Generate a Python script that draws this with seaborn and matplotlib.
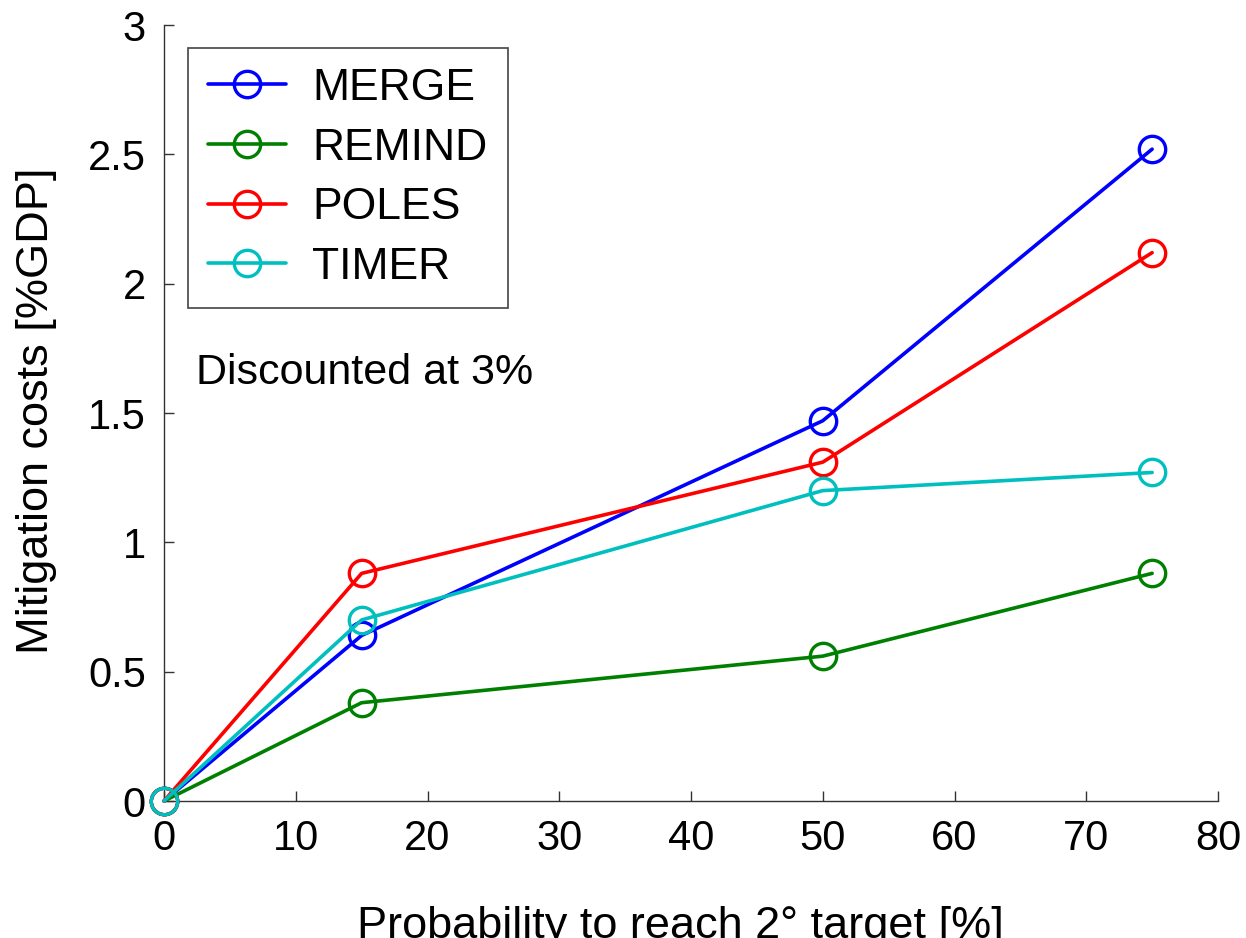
import matplotlib
matplotlib.use("Agg")
import matplotlib.pyplot as plt
from matplotlib import font_manager
import seaborn as sns
import pandas as pd

# Data: mitigation cost vs probability of reaching the 2 degree target
probability = [0, 15, 50, 75]
merge = [0.0, 0.64, 1.47, 2.52]
remind = [0.0, 0.38, 0.56, 0.88]
poles = [0.0, 0.88, 1.31, 2.12]
timer = [0.0, 0.70, 1.20, 1.27]

models = ["MERGE", "REMIND", "POLES", "TIMER"]
colors = ["#0000ff", "#008000", "#ff0000", "#00bfbf"]
x_ticks = [0, 10, 20, 30, 40, 50, 60, 70, 80]
y_ticks = [0, 0.5, 1, 1.5, 2, 2.5, 3]
y_tick_labels = ["0", "0.5", "1", "1.5", "2", "2.5", "3"]

df = pd.DataFrame({
    "probability": probability * 4,
    "cost": merge + remind + poles + timer,
    "model": [m for m in models for _ in probability],
})

sns.set_style("ticks")
available = {f.name for f in font_manager.fontManager.ttflist}
families = [f for f in ["Liberation Sans Narrow", "Liberation Sans", "DejaVu Sans"] if f in available]
plt.rcParams["font.family"] = families
plt.rcParams["text.color"] = "black"
plt.rcParams["axes.labelcolor"] = "black"
plt.rcParams["axes.edgecolor"] = "#333333"
plt.rcParams["xtick.color"] = "#333333"
plt.rcParams["ytick.color"] = "#333333"
plt.rcParams["xtick.labelcolor"] = "black"
plt.rcParams["ytick.labelcolor"] = "black"

fig = plt.figure(figsize=(12.46, 9.38), dpi=100)
ax = fig.add_axes([164 / 1246, 1 - 801 / 938, 1054 / 1246, 776 / 938])

for name, col in zip(models, colors):
    sub = df[df["model"] == name]
    sns.lineplot(data=sub, x="probability", y="cost", ax=ax, color=col,
                 label=name, marker="o", markersize=19, mfc="none",
                 mec=col, mew=2.4, lw=2.6, clip_on=False, zorder=3)

ax.set_xlim(0, 80)
ax.set_ylim(0, 3)
ax.set_xticks(x_ticks)
ax.set_yticks(y_ticks)
ax.set_yticklabels(y_tick_labels)
sns.despine(ax=ax)
for s in ["left", "bottom"]:
    ax.spines[s].set_linewidth(1.0)
ax.tick_params(direction="in", length=7, width=1.0, labelsize=30, pad=13)

ax.set_xlabel("Probability to reach 2° target [%]", fontsize=32.5)
ax.set_ylabel("Mitigation costs [%GDP]", fontsize=32.5)
ax.xaxis.set_label_coords(0.49, -0.135)
ax.yaxis.set_label_coords(-0.1015, 0.5026)

leg = ax.legend(loc="upper left", bbox_to_anchor=(188 / 1246, 1 - 48 / 938),
                bbox_transform=fig.transFigure, borderaxespad=0, fontsize=32,
                frameon=True, fancybox=False, framealpha=1, edgecolor="#444444",
                handlelength=1.75, handletextpad=0.6, labelspacing=0.42,
                borderpad=0.45)
leg.get_frame().set_linewidth(1.2)

fig.text(196 / 1246, 1 - 384 / 938, "Discounted at 3%", fontsize=31,
         ha="left", va="baseline")

fig.savefig("out.png", dpi=100)
